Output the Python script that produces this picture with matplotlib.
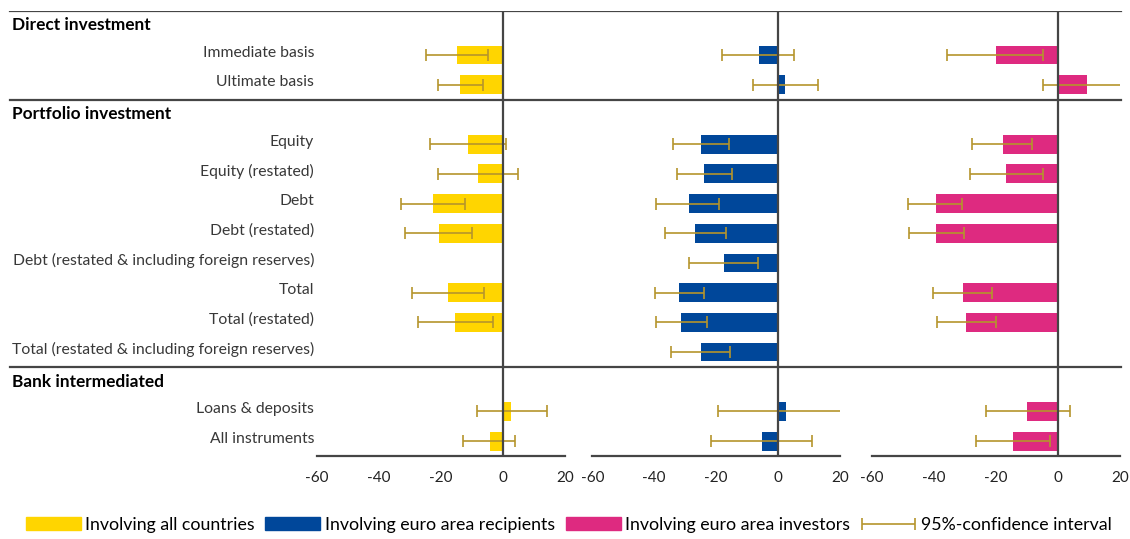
import numpy as np
import matplotlib
matplotlib.use("Agg")
import matplotlib.pyplot as plt
from matplotlib.patches import Patch
from matplotlib.legend_handler import HandlerErrorbar
from matplotlib.transforms import blended_transform_factory, ScaledTranslation

plt.rcParams["font.family"] = ["Lato", "DejaVu Sans"]

nan = np.nan

rows = ["Direct investment", "Immediate basis", "Ultimate basis",
        "Portfolio investment", "Equity", "Equity (restated)", "Debt",
        "Debt (restated)", "Debt (restated & including foreign reserves)",
        "Total", "Total (restated)", "Total (restated & including foreign reserves)",
        "Bank intermediated", "Loans & deposits", "All instruments"]
headers = ["Direct investment", "Portfolio investment", "Bank intermediated"]

# involving all countries
all_val = [nan, -14.7, -14.0, nan, -11.3, -8.0, -22.6, -20.7, nan, -17.7, -15.5, nan, nan, 2.7, -4.3]
all_lo = [nan, -24.7, -20.9, nan, -23.6, -21.0, -33.0, -31.5, nan, -29.4, -27.4, nan, nan, -8.5, -13.0]
all_hi = [nan, -5.0, -6.5, nan, 1.0, 4.8, -12.3, -9.9, nan, -6.1, -3.1, nan, nan, 14.3, 4.0]

# involving euro area recipients
rec_val = [nan, -6.2, 2.2, nan, -24.9, -23.8, -28.9, -26.8, -17.6, -32.1, -31.3, -24.9, nan, 2.4, -5.2]
rec_lo = [nan, -18.0, -8.1, nan, -33.8, -32.7, -39.5, -36.5, -28.9, -39.9, -39.5, -34.7, nan, -19.3, -21.7]
rec_hi = [nan, 5.2, 12.8, nan, -16.0, -14.9, -19.2, -16.8, -6.6, -24.0, -22.8, -15.6, nan, 21.0, 11.0]

# involving euro area investors
inv_val = [nan, -20.1, 9.4, nan, -17.7, -16.6, -39.4, -39.4, nan, -30.6, -29.5, nan, nan, -9.9, -14.4]
inv_lo = [nan, -35.9, -4.7, nan, -27.8, -28.3, -48.3, -47.9, nan, -40.4, -39.1, nan, nan, -23.3, -26.3]
inv_hi = [nan, -4.8, 21.0, nan, -8.2, -4.8, -31.0, -30.4, nan, -21.4, -19.9, nan, nan, 3.9, -2.6]

series = [
    ("Involving all countries", "#FFD500", all_val, all_lo, all_hi),
    ("Involving euro area recipients", "#00479A", rec_val, rec_lo, rec_hi),
    ("Involving euro area investors", "#DE2A80", inv_val, inv_lo, inv_hi),
]

x_ticks = [-60, -40, -20, 0, 20]
ci_color = "#B5952C"
line_color = "#454545"

W, H = 1130, 539
fig = plt.figure(figsize=(W / 100, H / 100), dpi=100)

y = np.arange(len(rows))
ylim = (len(rows) - 0.5, -0.5)
bottom = 83 / H
height = (456 - 10.5) / H

# background axes for the full-width separators
ax_bg = fig.add_axes([0, bottom, 1, height], zorder=-1)
ax_bg.set_xlim(0, W)
ax_bg.set_ylim(ylim)
ax_bg.axis("off")
for i, r in enumerate(rows):
    if r in headers:
        ax_bg.axhline(i - 0.5, xmin=10 / W, xmax=1121 / W, color=line_color, lw=1.6)

panel_x = [(317, 565), (592.3, 840), (871.7, 1120)]
axes = []
ci_handle = None
for (name, color, val, lo, hi), (x0, x1) in zip(series, panel_x):
    ax = fig.add_axes([x0 / W, bottom, (x1 - x0) / W, height])
    ax.set_facecolor("none")
    val = np.array(val)
    err = [val - np.array(lo), np.array(hi) - val]
    ax.barh(y, val, height=0.63, color=color, zorder=2)
    eb = ax.errorbar(val, y, xerr=err, fmt="none", ecolor=ci_color,
                     elinewidth=1.2, capsize=4, capthick=1.2, zorder=4)
    if ci_handle is None:
        ci_handle = eb
    ax.axvline(0, color=line_color, lw=1.6, zorder=5)
    ax.set_xlim(-60, 20)
    ax.set_ylim(ylim)
    ax.set_xticks(x_ticks)
    ax.set_xticklabels([str(t) for t in x_ticks])
    ax.tick_params(axis="x", length=0, pad=11, labelsize=11, labelcolor="#222222")
    ax.tick_params(axis="y", length=0)
    ax.set_yticks([])
    for s in ["top", "right", "left"]:
        ax.spines[s].set_visible(False)
    ax.spines["bottom"].set_color(line_color)
    ax.spines["bottom"].set_linewidth(1.6)
    axes.append(ax)

# row labels on the first panel
ax1 = axes[0]
label_rows = [i for i, r in enumerate(rows) if r not in headers]
ax1.set_yticks(label_rows)
ax1.set_yticklabels([rows[i] for i in label_rows])
ax1.tick_params(axis="y", length=0, pad=2, labelsize=11.3, labelcolor="#383838")
shift = ScaledTranslation(0, 4 / 100, fig.dpi_scale_trans)
for lab in ax1.get_yticklabels():
    lab.set_transform(lab.get_transform() + shift)

trans = blended_transform_factory(fig.transFigure, ax1.transData)
for i, r in enumerate(rows):
    if r in headers:
        ax1.text(12 / W, i, r, transform=trans, ha="left", va="center",
                 fontsize=12.4, fontweight="bold", color="black")

handles = [Patch(color=c) for _, c, _, _, _ in series] + [ci_handle]
labels = [s[0] for s in series] + ["95%-confidence interval"]
fig.legend(handles, labels, loc="center", bbox_to_anchor=(0.503, 1 - 525 / H),
           ncol=4, frameon=False, fontsize=12.8, handlelength=3.1, handleheight=0.75,
           handletextpad=0.25, columnspacing=0.6,
           handler_map={type(ci_handle): HandlerErrorbar(xerr_size=1.5)})

fig.savefig("out.png", dpi=100)
